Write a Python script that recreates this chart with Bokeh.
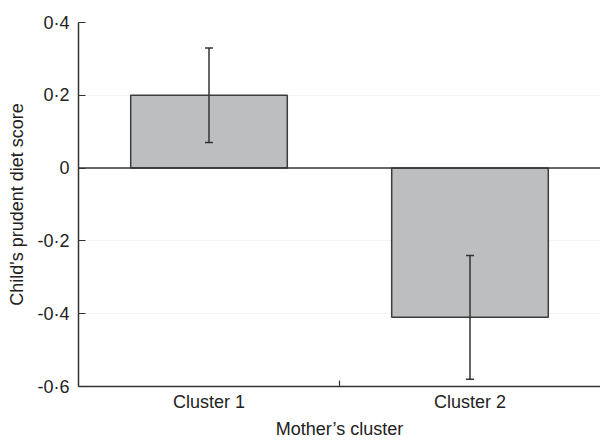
from bokeh.plotting import figure
from bokeh.models import ColumnDataSource, Range1d, FixedTicker, Whisker, TeeHead, Span
from bokeh.embed import file_html
from bokeh.resources import INLINE

# Data
categories = ["Cluster 1", "Cluster 2"]
cat_pos = [1, 2]
means = [0.20, -0.41]
err_lower = [0.07, -0.58]
err_upper = [0.33, -0.24]
y_ticks = [-0.6, -0.4, -0.2, 0, 0.2, 0.4]
y_tick_labels = ["-0·6", "-0·4", "-0·2", "0", "0·2", "0·4"]

src = ColumnDataSource(dict(x=cat_pos, top=means, lower=err_lower, upper=err_upper, name=categories))

FONT = "Liberation Sans"
DARK = "#333333"

p = figure(output_backend="svg", toolbar_location=None,
           frame_width=522, frame_height=364,
           min_border_left=78, min_border_right=0, min_border_top=22, min_border_bottom=54,
           x_range=Range1d(0.5, 2.5), y_range=Range1d(-0.6, 0.4))
p.outline_line_color = None
p.background_fill_color = "white"
p.border_fill_color = "white"

p.vbar(x="x", top="top", bottom=0, width=0.6, source=src,
       fill_color="#bdbec0", line_color="#3c3c3c", line_width=1.5)

p.add_layout(Span(location=0, dimension="width", line_color=DARK, line_width=1.5))

w = Whisker(base="x", lower="lower", upper="upper", source=src, level="overlay",
            line_color=DARK, line_width=1.5,
            upper_head=TeeHead(size=8, line_color=DARK, line_width=1.5),
            lower_head=TeeHead(size=8, line_color=DARK, line_width=1.5))
p.add_layout(w)

# grids
p.xgrid.grid_line_color = None
p.ygrid.grid_line_color = "#f5f5f5"
p.ygrid.grid_line_width = 1

# y axis
p.yaxis.ticker = FixedTicker(ticks=y_ticks)
p.yaxis.major_label_overrides = {t: l for t, l in zip(y_ticks, y_tick_labels)}
p.yaxis.minor_tick_line_color = None
p.yaxis.major_tick_in = 7
p.yaxis.major_tick_out = 0
p.yaxis.major_label_standoff = 9
p.yaxis.axis_label = "Child's prudent diet score"
p.yaxis.axis_label_standoff = 7

# x axis
p.xaxis.ticker = FixedTicker(ticks=cat_pos, minor_ticks=[1.5])
p.xaxis.major_label_overrides = {c: n for c, n in zip(cat_pos, categories)}
p.xaxis.major_tick_line_color = None
p.xaxis.major_tick_in = 0
p.xaxis.major_tick_out = 0
p.xaxis.minor_tick_in = 6
p.xaxis.minor_tick_out = 0
p.xaxis.minor_tick_line_color = DARK
p.xaxis.major_label_standoff = 5
p.xaxis.axis_label = "Mother’s cluster"
p.xaxis.axis_label_standoff = 4

for ax in (p.xaxis[0], p.yaxis[0]):
    ax.axis_line_color = DARK
    ax.axis_line_width = 1.5
    ax.major_tick_line_width = 1.2
    ax.minor_tick_line_width = 1.2
    ax.major_label_text_font = FONT
    ax.major_label_text_font_size = "18px"
    ax.major_label_text_color = "#222222"
    ax.axis_label_text_font = FONT
    ax.axis_label_text_font_size = "18px"
    ax.axis_label_text_font_style = "normal"
    ax.axis_label_text_color = "#222222"
p.yaxis.major_tick_line_color = DARK

open("out.html", "w").write(file_html(p, INLINE))
